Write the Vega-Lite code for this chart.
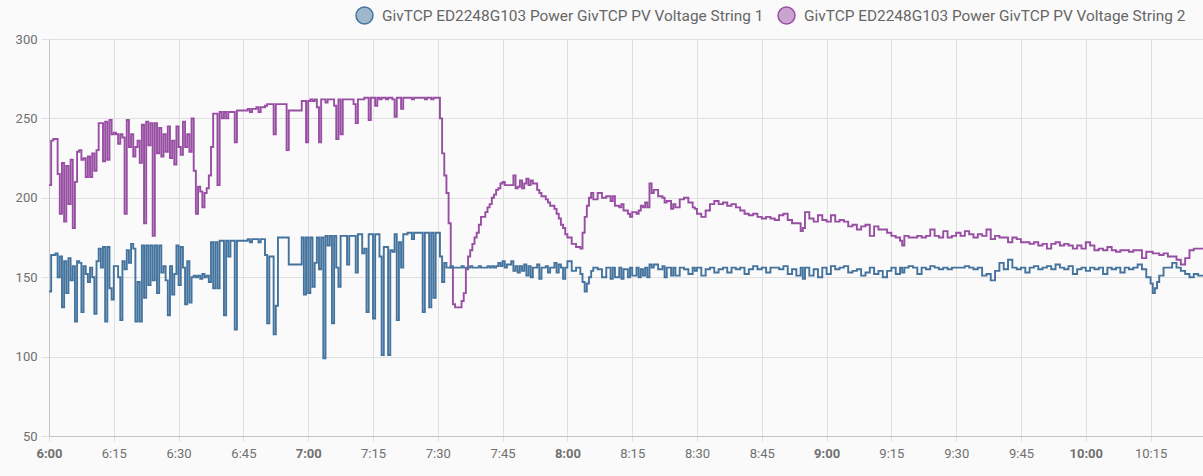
{
  "$schema": "https://vega.github.io/schema/vega-lite/v6.json",
  "width": 1154,
  "height": 397,
  "autosize": "none",
  "padding": {"left": 49, "top": 39, "right": 0, "bottom": 40},
  "background": "#fafafa",
  "config": {
    "view": {"stroke": null},
    "font": "Roboto",
    "axis": {
      "labelFont": "Roboto",
      "labelFontSize": 13,
      "labelColor": "#707070",
      "gridColor": "#e0e0e0",
      "tickColor": "#e0e0e0",
      "domainColor": "#c4c4c4"
    }
  },
  "data": {
    "values": [
      {"t":"2024-01-01T06:00:00","a":141,"b":208},{"t":"2024-01-01T06:00:30","a":164,"b":236},{"t":"2024-01-01T06:01:00","a":164,"b":237},
      {"t":"2024-01-01T06:01:30","a":165,"b":237},{"t":"2024-01-01T06:02:00","a":150,"b":215},{"t":"2024-01-01T06:02:30","a":163,"b":190},
      {"t":"2024-01-01T06:03:00","a":131,"b":222},{"t":"2024-01-01T06:03:30","a":160,"b":185},{"t":"2024-01-01T06:04:00","a":140,"b":220},
      {"t":"2024-01-01T06:04:30","a":162,"b":196},{"t":"2024-01-01T06:05:00","a":148,"b":224},{"t":"2024-01-01T06:05:30","a":157,"b":181},
      {"t":"2024-01-01T06:06:00","a":122,"b":210},{"t":"2024-01-01T06:06:30","a":160,"b":229},{"t":"2024-01-01T06:07:00","a":159,"b":230},
      {"t":"2024-01-01T06:07:30","a":128,"b":224},{"t":"2024-01-01T06:08:00","a":157,"b":225},{"t":"2024-01-01T06:08:30","a":152,"b":213},
      {"t":"2024-01-01T06:09:00","a":147,"b":226},{"t":"2024-01-01T06:09:30","a":156,"b":213},{"t":"2024-01-01T06:10:00","a":150,"b":228},
      {"t":"2024-01-01T06:10:30","a":127,"b":217},{"t":"2024-01-01T06:11:00","a":160,"b":230},{"t":"2024-01-01T06:11:30","a":168,"b":247},
      {"t":"2024-01-01T06:12:00","a":156,"b":247},{"t":"2024-01-01T06:12:30","a":169,"b":223},{"t":"2024-01-01T06:13:00","a":122,"b":248},
      {"t":"2024-01-01T06:13:30","a":169,"b":224},{"t":"2024-01-01T06:14:00","a":143,"b":249},{"t":"2024-01-01T06:14:30","a":136,"b":240},
      {"t":"2024-01-01T06:15:00","a":157,"b":241},{"t":"2024-01-01T06:15:30","a":157,"b":240},{"t":"2024-01-01T06:16:00","a":150,"b":234},
      {"t":"2024-01-01T06:16:30","a":123,"b":240},{"t":"2024-01-01T06:17:00","a":160,"b":238},{"t":"2024-01-01T06:17:30","a":155,"b":190},
      {"t":"2024-01-01T06:18:00","a":167,"b":249},{"t":"2024-01-01T06:18:30","a":159,"b":232},{"t":"2024-01-01T06:19:00","a":171,"b":240},
      {"t":"2024-01-01T06:19:30","a":168,"b":226},{"t":"2024-01-01T06:20:00","a":122,"b":232},{"t":"2024-01-01T06:20:30","a":147,"b":236},
      {"t":"2024-01-01T06:21:00","a":122,"b":222},{"t":"2024-01-01T06:21:30","a":170,"b":246},{"t":"2024-01-01T06:22:00","a":137,"b":184},
      {"t":"2024-01-01T06:22:30","a":170,"b":248},{"t":"2024-01-01T06:23:00","a":145,"b":233},{"t":"2024-01-01T06:23:30","a":170,"b":247},
      {"t":"2024-01-01T06:24:00","a":148,"b":176},{"t":"2024-01-01T06:24:30","a":170,"b":247},{"t":"2024-01-01T06:25:00","a":140,"b":228},
      {"t":"2024-01-01T06:25:30","a":170,"b":244},{"t":"2024-01-01T06:26:00","a":153,"b":226},{"t":"2024-01-01T06:26:30","a":157,"b":240},
      {"t":"2024-01-01T06:27:00","a":148,"b":229},{"t":"2024-01-01T06:27:30","a":126,"b":245},{"t":"2024-01-01T06:28:00","a":157,"b":225},
      {"t":"2024-01-01T06:28:30","a":139,"b":236},{"t":"2024-01-01T06:29:00","a":152,"b":221},{"t":"2024-01-01T06:29:30","a":170,"b":245},
      {"t":"2024-01-01T06:30:00","a":145,"b":232},{"t":"2024-01-01T06:30:30","a":169,"b":227},{"t":"2024-01-01T06:31:00","a":156,"b":248},
      {"t":"2024-01-01T06:31:30","a":133,"b":232},{"t":"2024-01-01T06:32:00","a":160,"b":240},{"t":"2024-01-01T06:32:30","a":134,"b":229},
      {"t":"2024-01-01T06:33:00","a":150,"b":250},{"t":"2024-01-01T06:33:30","a":151,"b":217},{"t":"2024-01-01T06:34:00","a":150,"b":190},
      {"t":"2024-01-01T06:34:30","a":151,"b":207},{"t":"2024-01-01T06:35:00","a":149,"b":204},{"t":"2024-01-01T06:35:30","a":152,"b":194},
      {"t":"2024-01-01T06:36:00","a":150,"b":203},{"t":"2024-01-01T06:36:30","a":151,"b":206},{"t":"2024-01-01T06:37:00","a":147,"b":214},
      {"t":"2024-01-01T06:37:30","a":172,"b":232},{"t":"2024-01-01T06:38:00","a":143,"b":253},{"t":"2024-01-01T06:38:30","a":172,"b":253},
      {"t":"2024-01-01T06:39:00","a":143,"b":208},{"t":"2024-01-01T06:39:30","a":173,"b":254},{"t":"2024-01-01T06:40:00","a":173,"b":250},
      {"t":"2024-01-01T06:40:30","a":126,"b":254},{"t":"2024-01-01T06:41:00","a":173,"b":250},{"t":"2024-01-01T06:41:30","a":163,"b":254},
      {"t":"2024-01-01T06:42:00","a":173,"b":254},{"t":"2024-01-01T06:43:00","a":117,"b":235},{"t":"2024-01-01T06:43:30","a":173,"b":255},
      {"t":"2024-01-01T06:46:00","a":174,"b":256},{"t":"2024-01-01T06:46:30","a":172,"b":254},{"t":"2024-01-01T06:47:00","a":174,"b":256},
      {"t":"2024-01-01T06:48:00","a":174,"b":257},{"t":"2024-01-01T06:48:30","a":172,"b":254},{"t":"2024-01-01T06:49:00","a":174,"b":257},
      {"t":"2024-01-01T06:50:00","a":164,"b":258},{"t":"2024-01-01T06:50:30","a":121,"b":259},{"t":"2024-01-01T06:51:00","a":163,"b":259},
      {"t":"2024-01-01T06:52:00","a":114,"b":240},{"t":"2024-01-01T06:52:30","a":132,"b":259},{"t":"2024-01-01T06:53:00","a":175,"b":259},
      {"t":"2024-01-01T06:55:00","a":175,"b":230},{"t":"2024-01-01T06:55:30","a":158,"b":255},{"t":"2024-01-01T06:58:30","a":175,"b":261},
      {"t":"2024-01-01T06:59:00","a":139,"b":261},{"t":"2024-01-01T06:59:30","a":175,"b":235},{"t":"2024-01-01T07:00:00","a":140,"b":261},
      {"t":"2024-01-01T07:00:30","a":175,"b":262},{"t":"2024-01-01T07:01:00","a":144,"b":261},{"t":"2024-01-01T07:01:30","a":159,"b":262},
      {"t":"2024-01-01T07:02:00","a":175,"b":257},{"t":"2024-01-01T07:02:30","a":155,"b":235},{"t":"2024-01-01T07:03:00","a":175,"b":262},
      {"t":"2024-01-01T07:03:30","a":99,"b":262},{"t":"2024-01-01T07:04:00","a":176,"b":260},{"t":"2024-01-01T07:04:30","a":170,"b":262},
      {"t":"2024-01-01T07:05:00","a":176,"b":262},{"t":"2024-01-01T07:05:30","a":121,"b":262},{"t":"2024-01-01T07:06:00","a":176,"b":258},
      {"t":"2024-01-01T07:06:30","a":156,"b":237},{"t":"2024-01-01T07:07:00","a":144,"b":262},{"t":"2024-01-01T07:07:30","a":176,"b":240},
      {"t":"2024-01-01T07:08:00","a":176,"b":262},{"t":"2024-01-01T07:09:00","a":158,"b":262},{"t":"2024-01-01T07:09:30","a":176,"b":262},
      {"t":"2024-01-01T07:10:30","a":176,"b":259},{"t":"2024-01-01T07:11:00","a":153,"b":247},{"t":"2024-01-01T07:11:30","a":177,"b":262},
      {"t":"2024-01-01T07:12:30","a":165,"b":262},{"t":"2024-01-01T07:13:00","a":168,"b":263},{"t":"2024-01-01T07:13:30","a":128,"b":263},
      {"t":"2024-01-01T07:14:00","a":177,"b":249},{"t":"2024-01-01T07:14:30","a":177,"b":263},{"t":"2024-01-01T07:15:00","a":124,"b":263},
      {"t":"2024-01-01T07:15:30","a":177,"b":258},{"t":"2024-01-01T07:16:00","a":177,"b":263},{"t":"2024-01-01T07:16:30","a":163,"b":262},
      {"t":"2024-01-01T07:17:00","a":101,"b":263},{"t":"2024-01-01T07:17:30","a":169,"b":263},{"t":"2024-01-01T07:18:00","a":169,"b":262},
      {"t":"2024-01-01T07:18:30","a":101,"b":263},{"t":"2024-01-01T07:19:00","a":167,"b":263},{"t":"2024-01-01T07:19:30","a":166,"b":262},
      {"t":"2024-01-01T07:20:00","a":177,"b":251},{"t":"2024-01-01T07:20:30","a":123,"b":263},{"t":"2024-01-01T07:21:00","a":172,"b":263},
      {"t":"2024-01-01T07:21:30","a":156,"b":256},{"t":"2024-01-01T07:22:00","a":177,"b":263},{"t":"2024-01-01T07:23:00","a":178,"b":263},
      {"t":"2024-01-01T07:24:00","a":174,"b":262},{"t":"2024-01-01T07:24:30","a":178,"b":263},{"t":"2024-01-01T07:26:30","a":128,"b":263},
      {"t":"2024-01-01T07:27:00","a":178,"b":262},{"t":"2024-01-01T07:27:30","a":178,"b":263},{"t":"2024-01-01T07:28:00","a":131,"b":263},
      {"t":"2024-01-01T07:28:30","a":178,"b":262},{"t":"2024-01-01T07:29:00","a":137,"b":263},{"t":"2024-01-01T07:29:30","a":178,"b":263},
      {"t":"2024-01-01T07:30:30","a":163,"b":250},{"t":"2024-01-01T07:31:00","a":147,"b":228},{"t":"2024-01-01T07:31:30","a":159,"b":214},
      {"t":"2024-01-01T07:32:00","a":156,"b":203},{"t":"2024-01-01T07:32:30","a":156,"b":184},{"t":"2024-01-01T07:33:00","a":157,"b":156},
      {"t":"2024-01-01T07:33:30","a":156,"b":133},{"t":"2024-01-01T07:34:00","a":156,"b":131},{"t":"2024-01-01T07:35:30","a":157,"b":135},
      {"t":"2024-01-01T07:36:00","a":156,"b":140},{"t":"2024-01-01T07:36:30","a":156,"b":155},{"t":"2024-01-01T07:37:00","a":156,"b":163},
      {"t":"2024-01-01T07:37:30","a":157,"b":167},{"t":"2024-01-01T07:38:00","a":156,"b":171},{"t":"2024-01-01T07:38:30","a":156,"b":175},
      {"t":"2024-01-01T07:39:00","a":156,"b":178},{"t":"2024-01-01T07:39:30","a":157,"b":183},{"t":"2024-01-01T07:40:00","a":156,"b":188},
      {"t":"2024-01-01T07:41:00","a":156,"b":191},{"t":"2024-01-01T07:41:30","a":157,"b":194},{"t":"2024-01-01T07:42:00","a":156,"b":196},
      {"t":"2024-01-01T07:42:30","a":157,"b":200},{"t":"2024-01-01T07:43:00","a":156,"b":202},{"t":"2024-01-01T07:43:30","a":157,"b":205},
      {"t":"2024-01-01T07:44:00","a":159,"b":206},{"t":"2024-01-01T07:44:30","a":157,"b":209},{"t":"2024-01-01T07:45:00","a":160,"b":210},
      {"t":"2024-01-01T07:45:30","a":156,"b":208},{"t":"2024-01-01T07:46:00","a":158,"b":208},{"t":"2024-01-01T07:47:00","a":160,"b":208},
      {"t":"2024-01-01T07:47:30","a":154,"b":214},{"t":"2024-01-01T07:48:00","a":157,"b":206},{"t":"2024-01-01T07:48:30","a":153,"b":207},
      {"t":"2024-01-01T07:49:00","a":157,"b":211},{"t":"2024-01-01T07:49:30","a":154,"b":206},{"t":"2024-01-01T07:50:00","a":158,"b":209},
      {"t":"2024-01-01T07:50:30","a":151,"b":212},{"t":"2024-01-01T07:51:00","a":157,"b":208},{"t":"2024-01-01T07:51:30","a":150,"b":211},
      {"t":"2024-01-01T07:52:00","a":156,"b":209},{"t":"2024-01-01T07:53:00","a":158,"b":205},{"t":"2024-01-01T07:53:30","a":149,"b":203},
      {"t":"2024-01-01T07:54:00","a":156,"b":201},{"t":"2024-01-01T07:55:00","a":157,"b":199},{"t":"2024-01-01T07:55:30","a":153,"b":197},
      {"t":"2024-01-01T07:56:00","a":156,"b":195},{"t":"2024-01-01T07:57:00","a":159,"b":193},{"t":"2024-01-01T07:57:30","a":153,"b":190},
      {"t":"2024-01-01T07:58:00","a":158,"b":187},{"t":"2024-01-01T07:58:30","a":156,"b":183},{"t":"2024-01-01T07:59:00","a":149,"b":181},
      {"t":"2024-01-01T07:59:30","a":156,"b":177},{"t":"2024-01-01T08:00:00","a":160,"b":175},{"t":"2024-01-01T08:01:00","a":154,"b":171},
      {"t":"2024-01-01T08:02:00","a":156,"b":169},{"t":"2024-01-01T08:03:00","a":152,"b":168},{"t":"2024-01-01T08:03:30","a":147,"b":178},
      {"t":"2024-01-01T08:04:00","a":141,"b":188},{"t":"2024-01-01T08:04:30","a":146,"b":195},{"t":"2024-01-01T08:05:00","a":150,"b":200},
      {"t":"2024-01-01T08:05:30","a":154,"b":203},{"t":"2024-01-01T08:06:00","a":156,"b":199},{"t":"2024-01-01T08:07:00","a":155,"b":203},
      {"t":"2024-01-01T08:08:00","a":150,"b":200},{"t":"2024-01-01T08:09:00","a":156,"b":201},{"t":"2024-01-01T08:10:00","a":149,"b":198},
      {"t":"2024-01-01T08:10:30","a":156,"b":201},{"t":"2024-01-01T08:11:00","a":150,"b":195},{"t":"2024-01-01T08:12:00","a":156,"b":194},
      {"t":"2024-01-01T08:12:30","a":149,"b":196},{"t":"2024-01-01T08:13:00","a":155,"b":192},{"t":"2024-01-01T08:14:00","a":150,"b":190},
      {"t":"2024-01-01T08:14:30","a":156,"b":188},{"t":"2024-01-01T08:15:00","a":151,"b":191},{"t":"2024-01-01T08:16:00","a":156,"b":190},
      {"t":"2024-01-01T08:16:30","a":150,"b":192},{"t":"2024-01-01T08:17:00","a":155,"b":195},{"t":"2024-01-01T08:17:30","a":151,"b":194},
      {"t":"2024-01-01T08:18:00","a":156,"b":197},{"t":"2024-01-01T08:18:30","a":150,"b":194},{"t":"2024-01-01T08:19:00","a":158,"b":209},
      {"t":"2024-01-01T08:19:30","a":156,"b":203},{"t":"2024-01-01T08:20:00","a":158,"b":205},{"t":"2024-01-01T08:21:00","a":155,"b":201},
      {"t":"2024-01-01T08:22:00","a":157,"b":200},{"t":"2024-01-01T08:22:30","a":150,"b":197},{"t":"2024-01-01T08:23:00","a":156,"b":198},
      {"t":"2024-01-01T08:24:00","a":151,"b":193},{"t":"2024-01-01T08:24:30","a":156,"b":196},{"t":"2024-01-01T08:25:00","a":151,"b":194},
      {"t":"2024-01-01T08:26:00","a":156,"b":199},{"t":"2024-01-01T08:27:00","a":155,"b":200},{"t":"2024-01-01T08:28:00","a":152,"b":197},
      {"t":"2024-01-01T08:29:00","a":156,"b":194},{"t":"2024-01-01T08:29:30","a":154,"b":193},{"t":"2024-01-01T08:30:00","a":156,"b":190},
      {"t":"2024-01-01T08:31:00","a":151,"b":188},{"t":"2024-01-01T08:32:00","a":155,"b":192},{"t":"2024-01-01T08:33:00","a":156,"b":196},
      {"t":"2024-01-01T08:34:00","a":153,"b":198},{"t":"2024-01-01T08:35:00","a":155,"b":196},{"t":"2024-01-01T08:36:00","a":156,"b":197},
      {"t":"2024-01-01T08:37:00","a":153,"b":195},{"t":"2024-01-01T08:38:00","a":156,"b":196},{"t":"2024-01-01T08:39:00","a":155,"b":194},
      {"t":"2024-01-01T08:40:00","a":156,"b":192},{"t":"2024-01-01T08:41:00","a":152,"b":190},{"t":"2024-01-01T08:42:00","a":155,"b":189},
      {"t":"2024-01-01T08:43:00","a":157,"b":190},{"t":"2024-01-01T08:44:00","a":155,"b":188},{"t":"2024-01-01T08:45:00","a":156,"b":187},
      {"t":"2024-01-01T08:46:00","a":153,"b":188},{"t":"2024-01-01T08:47:00","a":156,"b":187},{"t":"2024-01-01T08:48:00","a":156,"b":186},
      {"t":"2024-01-01T08:49:00","a":155,"b":189},{"t":"2024-01-01T08:50:00","a":157,"b":190},{"t":"2024-01-01T08:51:00","a":152,"b":186},
      {"t":"2024-01-01T08:52:00","a":155,"b":184},{"t":"2024-01-01T08:53:00","a":151,"b":184},{"t":"2024-01-01T08:54:00","a":156,"b":179},
      {"t":"2024-01-01T08:54:30","a":149,"b":181},{"t":"2024-01-01T08:55:00","a":156,"b":191},{"t":"2024-01-01T08:56:00","a":151,"b":187},
      {"t":"2024-01-01T08:57:00","a":155,"b":185},{"t":"2024-01-01T08:58:00","a":150,"b":189},{"t":"2024-01-01T08:59:00","a":156,"b":186},
      {"t":"2024-01-01T09:00:00","a":152,"b":185},{"t":"2024-01-01T09:01:00","a":157,"b":189},{"t":"2024-01-01T09:02:00","a":155,"b":185},
      {"t":"2024-01-01T09:03:00","a":156,"b":186},{"t":"2024-01-01T09:04:00","a":157,"b":185},{"t":"2024-01-01T09:05:00","a":153,"b":182},
      {"t":"2024-01-01T09:06:00","a":154,"b":183},{"t":"2024-01-01T09:07:00","a":155,"b":180},{"t":"2024-01-01T09:08:00","a":151,"b":182},
      {"t":"2024-01-01T09:09:00","a":153,"b":183},{"t":"2024-01-01T09:10:00","a":156,"b":176},{"t":"2024-01-01T09:11:00","a":152,"b":182},
      {"t":"2024-01-01T09:12:00","a":154,"b":180},{"t":"2024-01-01T09:13:00","a":150,"b":180},{"t":"2024-01-01T09:14:00","a":154,"b":178},
      {"t":"2024-01-01T09:15:00","a":156,"b":176},{"t":"2024-01-01T09:16:00","a":152,"b":175},{"t":"2024-01-01T09:17:00","a":156,"b":173},
      {"t":"2024-01-01T09:17:30","a":153,"b":170},{"t":"2024-01-01T09:18:00","a":156,"b":176},{"t":"2024-01-01T09:19:00","a":157,"b":175},
      {"t":"2024-01-01T09:20:00","a":156,"b":175},{"t":"2024-01-01T09:21:00","a":152,"b":176},{"t":"2024-01-01T09:22:00","a":156,"b":175},
      {"t":"2024-01-01T09:23:00","a":155,"b":176},{"t":"2024-01-01T09:24:00","a":157,"b":180},{"t":"2024-01-01T09:25:00","a":156,"b":176},
      {"t":"2024-01-01T09:26:00","a":155,"b":175},{"t":"2024-01-01T09:27:00","a":156,"b":179},{"t":"2024-01-01T09:28:00","a":155,"b":175},
      {"t":"2024-01-01T09:29:00","a":156,"b":176},{"t":"2024-01-01T09:30:00","a":156,"b":178},{"t":"2024-01-01T09:31:00","a":156,"b":176},
      {"t":"2024-01-01T09:32:00","a":157,"b":179},{"t":"2024-01-01T09:33:00","a":156,"b":177},{"t":"2024-01-01T09:34:00","a":155,"b":175},
      {"t":"2024-01-01T09:35:00","a":156,"b":177},{"t":"2024-01-01T09:36:00","a":151,"b":176},{"t":"2024-01-01T09:37:00","a":152,"b":180},
      {"t":"2024-01-01T09:38:00","a":148,"b":174},{"t":"2024-01-01T09:39:00","a":154,"b":176},{"t":"2024-01-01T09:40:00","a":159,"b":175},
      {"t":"2024-01-01T09:41:00","a":155,"b":175},{"t":"2024-01-01T09:42:00","a":161,"b":172},{"t":"2024-01-01T09:43:00","a":156,"b":175},
      {"t":"2024-01-01T09:44:00","a":155,"b":174},{"t":"2024-01-01T09:45:00","a":156,"b":172},{"t":"2024-01-01T09:46:00","a":153,"b":172},
      {"t":"2024-01-01T09:47:00","a":156,"b":171},{"t":"2024-01-01T09:48:00","a":157,"b":172},{"t":"2024-01-01T09:49:00","a":155,"b":170},
      {"t":"2024-01-01T09:50:00","a":156,"b":171},{"t":"2024-01-01T09:51:00","a":157,"b":168},{"t":"2024-01-01T09:52:00","a":155,"b":171},
      {"t":"2024-01-01T09:53:00","a":158,"b":172},{"t":"2024-01-01T09:54:00","a":156,"b":170},{"t":"2024-01-01T09:55:00","a":155,"b":171},
      {"t":"2024-01-01T09:56:00","a":157,"b":170},{"t":"2024-01-01T09:57:00","a":152,"b":168},{"t":"2024-01-01T09:58:00","a":155,"b":170},
      {"t":"2024-01-01T09:59:00","a":156,"b":168},{"t":"2024-01-01T10:00:00","a":154,"b":172},{"t":"2024-01-01T10:01:00","a":156,"b":170},
      {"t":"2024-01-01T10:02:00","a":155,"b":167},{"t":"2024-01-01T10:03:00","a":156,"b":168},{"t":"2024-01-01T10:04:00","a":152,"b":167},
      {"t":"2024-01-01T10:05:00","a":156,"b":169},{"t":"2024-01-01T10:06:00","a":155,"b":167},{"t":"2024-01-01T10:07:00","a":156,"b":166},
      {"t":"2024-01-01T10:08:00","a":153,"b":167},{"t":"2024-01-01T10:09:00","a":156,"b":167},{"t":"2024-01-01T10:10:00","a":155,"b":166},
      {"t":"2024-01-01T10:11:00","a":156,"b":167},{"t":"2024-01-01T10:12:00","a":158,"b":167},{"t":"2024-01-01T10:13:00","a":155,"b":162},
      {"t":"2024-01-01T10:14:00","a":150,"b":166},{"t":"2024-01-01T10:15:00","a":146,"b":166},{"t":"2024-01-01T10:15:30","a":140,"b":165},
      {"t":"2024-01-01T10:16:00","a":143,"b":165},{"t":"2024-01-01T10:16:30","a":147,"b":165},{"t":"2024-01-01T10:17:00","a":151,"b":164},
      {"t":"2024-01-01T10:18:00","a":156,"b":165},{"t":"2024-01-01T10:19:00","a":156,"b":163},{"t":"2024-01-01T10:20:00","a":159,"b":163},
      {"t":"2024-01-01T10:21:00","a":156,"b":161},{"t":"2024-01-01T10:22:00","a":154,"b":158},{"t":"2024-01-01T10:23:00","a":152,"b":162},
      {"t":"2024-01-01T10:24:00","a":150,"b":167},{"t":"2024-01-01T10:25:00","a":152,"b":168},{"t":"2024-01-01T10:26:00","a":151,"b":168},
      {"t":"2024-01-01T10:27:08","a":151,"b":168}
    ]
  },
  "encoding": {
    "x": {
      "field": "t",
      "type": "temporal",
      "scale": {"nice": false},
      "title": null,
      "axis": {
        "format": "%-H:%M",
        "tickCount": 18,
        "tickSize": 5,
        "labelPadding": 6,
        "labelFlush": false,
        "labelFontWeight": {
          "condition": {"test": "minutes(datum.value) == 0", "value": "bold"},
          "value": "normal"
        }
      }
    }
  },
  "layer": [
    {
      "mark": {"type": "line", "interpolate": "step-after", "strokeWidth": 1.9},
      "encoding": {
        "y": {
          "field": "b",
          "type": "quantitative",
          "title": null,
          "scale": {"domain": [50, 300], "nice": false, "zero": false},
          "axis": {"values": [50, 100, 150, 200, 250, 300], "tickSize": 8, "labelPadding": 4}
        },
        "color": {"datum": "GivTCP ED2248G103 Power GivTCP PV Voltage String 2"}
      }
    },
    {
      "mark": {"type": "line", "interpolate": "step-after", "strokeWidth": 1.9},
      "encoding": {
        "y": {
          "field": "a",
          "type": "quantitative",
          "scale": {"domain": [50, 300], "nice": false, "zero": false}
        },
        "color": {
          "datum": "GivTCP ED2248G103 Power GivTCP PV Voltage String 1",
          "scale": {
            "domain": [
              "GivTCP ED2248G103 Power GivTCP PV Voltage String 1",
              "GivTCP ED2248G103 Power GivTCP PV Voltage String 2"
            ],
            "range": ["#44739e", "#984ea3"]
          },
          "legend": {
            "orient": "none",
            "legendX": 306,
            "legendY": -33,
            "direction": "horizontal",
            "title": null,
            "symbolType": "circle",
            "symbolSize": 289,
            "symbolStrokeWidth": 1.5,
            "labelFont": "Roboto",
            "labelFontSize": 15.4,
            "labelColor": "#666666",
            "labelOffset": 8,
            "labelLimit": 0,
            "columnPadding": 11,
            "encode": {
              "symbols": {
                "update": {
                  "fill": {"scale": "color", "field": "value"},
                  "fillOpacity": {"value": 0.5}
                }
              }
            }
          }
        }
      }
    }
  ]
}
